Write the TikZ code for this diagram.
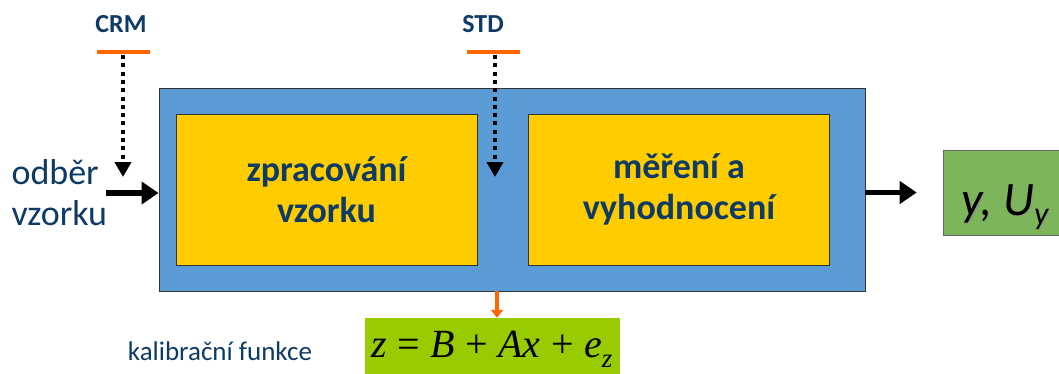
\documentclass[tikz,border=0pt]{standalone}
\usepackage{fontspec}
\setmainfont{Carlito}
\newfontfamily\formulafont{Liberation Serif}
\usetikzlibrary{arrows.meta}
\definecolor{boxblue}{HTML}{5B9BD5}
\definecolor{boxyellow}{HTML}{FFCC00}
\definecolor{outgreen}{HTML}{7DB65A}
\definecolor{calgreen}{HTML}{99CC00}
\definecolor{barorange}{HTML}{FF6600}
\definecolor{textblue}{HTML}{0E3A66}
\tikzset{
  block/.style={draw=black!80, line width=0.9pt, inner sep=0pt},
  stage/.style={block, fill=boxyellow, minimum width=301pt, minimum height=151pt,
    text=textblue, font=\fontsize{36}{41}\selectfont\bfseries, align=center},
  flow/.style={line width=5.5pt, -{Triangle[length=17pt,width=22pt]}},
  dose/.style={line width=3.8pt, dash pattern=on 4pt off 4.3pt, -{Triangle[length=15pt,width=16pt]}},
  doselabel/.style={text=textblue, font=\fontsize{26}{30}\selectfont\bfseries},
  bar/.style={draw=barorange, line width=4pt}
}
\newcommand{\resulttext}{y, U\raisebox{-9pt}{\fontsize{32}{34}\selectfont y}}
\newcommand{\opgap}{\hspace{10.5pt}}
\begin{document}
\begin{tikzpicture}[x=1pt,y=-1pt]
  \clip (0,0) rectangle (1059,373);
  \useasboundingbox (0,0) rectangle (1059,373);
  % analytical process
  \node[block, fill=boxblue, minimum width=706pt, minimum height=203pt] (proc) at (512,189.5) {};
  \node[stage] (prep) at (326.5,189.5) {zpracování\\vzorku};
  \node[stage] (meas) at (679,189.5) {měření a\\vyhodnocení};
  % result
  \node[draw=black!60, line width=0.6pt, fill=outgreen, minimum width=122pt, minimum height=85pt, inner sep=0pt] (res) at (1004,192.5) {};
  \node[anchor=base west, inner sep=0pt, font=\fontsize{48}{52}\selectfont\itshape, text=black!45, opacity=0.55] at (963,216.5) {\resulttext};
  \node[anchor=base west, inner sep=0pt, font=\fontsize{48}{52}\selectfont\itshape] (restext) at (961.5,215) {\resulttext};
  % sampling input
  \node[anchor=west, text=textblue, font=\fontsize{36}{41}\selectfont, align=left] (sample) at (8,193) {odběr\\vzorku};
  \coordinate (inL) at (106,193);
  \draw[flow] (inL) -- (proc.west |- inL);
  \coordinate (outL) at (proc.east |- res.west);
  \draw[flow] (outL) -- ([xshift=-26pt]res.west);
  % reference material and standard
  \node[doselabel] (crm) at (121,24) {CRM};
  \coordinate (crmL) at (97,52);
  \coordinate (crmR) at (150,52);
  \draw[bar] (crmL) -- (crmR);
  \coordinate (crmT) at (123,55);
  \coordinate (crmE) at (123,177);
  \draw[dose] (crmT) -- (crmE);
  \node[doselabel] (std) at (483,24) {STD};
  \coordinate (stdL) at (467,52);
  \coordinate (stdR) at (520,52);
  \draw[bar] (stdL) -- (stdR);
  \coordinate (stdT) at (495,55);
  \coordinate (stdE) at (495,177);
  \draw[dose] (stdT) -- (stdE);
  % calibration function
  \node[fill=calgreen, minimum width=255pt, minimum height=62pt, inner sep=0pt] (cal) at (492.5,349) {};
  \node[anchor=base west, inner sep=0pt, font=\formulafont\fontsize{40}{42}\selectfont] (formula) at (371,357)
    {\textit{z}\opgap=\opgap\textit{B}\opgap+\opgap\textit{Ax}\opgap+\opgap\textit{e}\raisebox{-10pt}{\fontsize{27}{29}\selectfont\textit{z}}};
  \node[text=textblue, font=\fontsize{27}{30}\selectfont] (calname) at (220,351) {kalibrační funkce};
  \coordinate (calT) at (497,291);
  \draw[barorange, line width=4pt, -{Triangle[length=8pt,width=12pt]}] (calT) -- (calT |- cal.north);
\end{tikzpicture}
\end{document}
